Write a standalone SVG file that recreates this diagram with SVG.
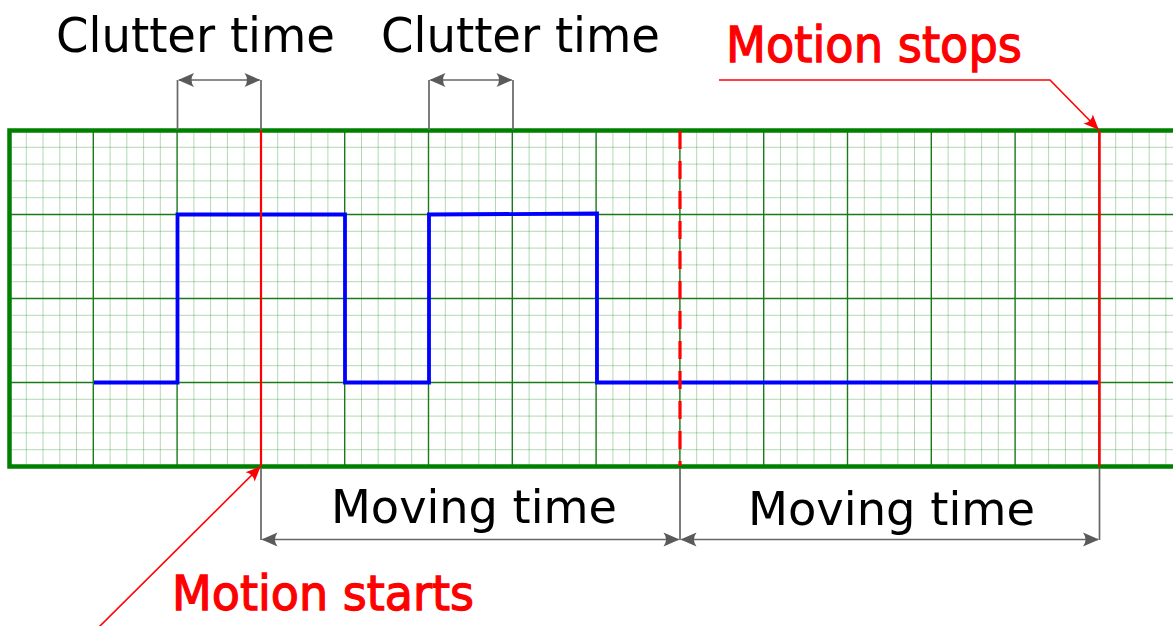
<svg xmlns="http://www.w3.org/2000/svg" width="1173" height="626" viewBox="0 0 1173 626">
<style>
.minor{stroke:#008000;stroke-opacity:0.3;stroke-width:1;fill:none}
.major{stroke:#1a7a1a;stroke-width:1.4;fill:none}
.border{stroke:#008000;stroke-width:4.5;fill:none}
.dim{stroke:#666666;stroke-width:1.7;fill:none}
.ptr{stroke:#ff0000;stroke-width:1.6;fill:none}
.lbl{font-family:"DejaVu Sans Condensed","DejaVu Sans",sans-serif;fill:#000000}
.red{font-family:"DejaVu Sans","DejaVu Sans Condensed",sans-serif;fill:#ff0000;stroke:#ff0000;stroke-width:1.3}
</style>
<defs>
<marker id="ag" markerUnits="userSpaceOnUse" markerWidth="22" markerHeight="18" refX="0" refY="0" viewBox="-18 -9 22 18" orient="auto-start-reverse" overflow="visible">
<path d="M1,0 L-15,-7 Q-10,0 -15,7 Z" fill="#5a5a5a"/>
</marker>
<marker id="ar" markerUnits="userSpaceOnUse" markerWidth="22" markerHeight="18" refX="0" refY="0" viewBox="-18 -9 22 18" orient="auto" overflow="visible">
<path d="M1,0 L-14,-6.5 Q-9.5,0 -14,6.5 Z" fill="#ff0000"/>
</marker>
</defs>
<rect width="1173" height="626" fill="#ffffff"/>
<g id="grid">
<path class="minor" d="M26.3,130.5V466.5M43,130.5V466.5M59.8,130.5V466.5M76.5,130.5V466.5M110.1,130.5V466.5M126.8,130.5V466.5M143.6,130.5V466.5M160.3,130.5V466.5M193.9,130.5V466.5M210.6,130.5V466.5M227.4,130.5V466.5M244.1,130.5V466.5M277.7,130.5V466.5M294.4,130.5V466.5M311.2,130.5V466.5M327.9,130.5V466.5M361.5,130.5V466.5M378.2,130.5V466.5M395,130.5V466.5M411.7,130.5V466.5M445.3,130.5V466.5M462,130.5V466.5M478.8,130.5V466.5M495.5,130.5V466.5M529.1,130.5V466.5M545.8,130.5V466.5M562.6,130.5V466.5M579.3,130.5V466.5M612.9,130.5V466.5M629.6,130.5V466.5M646.4,130.5V466.5M663.1,130.5V466.5M696.7,130.5V466.5M713.4,130.5V466.5M730.2,130.5V466.5M746.9,130.5V466.5M780.5,130.5V466.5M797.2,130.5V466.5M814,130.5V466.5M830.7,130.5V466.5M864.3,130.5V466.5M881,130.5V466.5M897.8,130.5V466.5M914.5,130.5V466.5M948.1,130.5V466.5M964.8,130.5V466.5M981.6,130.5V466.5M998.3,130.5V466.5M1031.9,130.5V466.5M1048.6,130.5V466.5M1065.4,130.5V466.5M1082.1,130.5V466.5M1115.7,130.5V466.5M1132.4,130.5V466.5M1149.2,130.5V466.5M1165.9,130.5V466.5
M9.5,147.3H1173M9.5,164.1H1173M9.5,180.9H1173M9.5,197.7H1173M9.5,231.3H1173M9.5,248.1H1173M9.5,264.9H1173M9.5,281.7H1173M9.5,315.3H1173M9.5,332.1H1173M9.5,348.9H1173M9.5,365.7H1173M9.5,399.3H1173M9.5,416.1H1173M9.5,432.9H1173M9.5,449.7H1173"/>
<path class="major" d="M93.3,130.5V466.5M177.1,130.5V466.5M260.9,130.5V466.5M344.7,130.5V466.5M428.5,130.5V466.5M512.3,130.5V466.5M596.1,130.5V466.5M679.9,130.5V466.5M763.7,130.5V466.5M847.5,130.5V466.5M931.3,130.5V466.5M1015.1,130.5V466.5M1098.9,130.5V466.5M9.5,214.5H1173M9.5,298.5H1173M9.5,382.5H1173"/>
<path class="border" d="M1180,130.5H9.5V466.5H1180"/>
</g>
<g id="signal">
<path d="M94,382.5H177.5V214.5H345V382.5H429V214.5L597,213.5V382.5H1099" fill="none" stroke="#0000ff" stroke-width="3.8"/>
</g>
<g id="motion-lines">
<path d="M261,130.5V466.5" stroke="#ff0000" stroke-width="2.2" fill="none"/>
<path d="M680,131V466" stroke="#ff0000" stroke-width="3.2" stroke-dasharray="18,12" fill="none"/>
<path d="M1099.5,130.5V466.5" stroke="#ff0000" stroke-width="2.5" fill="none"/>
</g>
<g id="connectors">
<path class="dim" d="M177.5,80V130M261,80V130"/>
<path class="dim" d="M179,80H259.5" marker-start="url(#ag)" marker-end="url(#ag)"/>
<path class="dim" d="M429,80V130M513,80V130"/>
<path class="dim" d="M430.5,80H511.5" marker-start="url(#ag)" marker-end="url(#ag)"/>
<path class="dim" d="M261,468V540M680,468V540M1099.5,468V540"/>
<path class="dim" d="M262.5,539.5H678.5" marker-start="url(#ag)" marker-end="url(#ag)"/>
<path class="dim" d="M681.5,539.5H1098" marker-start="url(#ag)" marker-end="url(#ag)"/>
<path class="ptr" d="M719,80H1050L1098,129" marker-end="url(#ar)"/>
<path class="ptr" d="M98,628L260,467" marker-end="url(#ar)"/>
</g>
<g id="labels">
<text class="lbl" x="56" y="52" font-size="48" textLength="279" lengthAdjust="spacingAndGlyphs">Clutter time</text>
<text class="lbl" x="381" y="52" font-size="48" textLength="279" lengthAdjust="spacingAndGlyphs">Clutter time</text>
<text class="lbl" x="331" y="523" font-size="46" textLength="286" lengthAdjust="spacingAndGlyphs">Moving time</text>
<text class="lbl" x="748" y="525" font-size="46" textLength="287" lengthAdjust="spacingAndGlyphs">Moving time</text>
<text class="red" x="726" y="62" font-size="49" textLength="296" lengthAdjust="spacingAndGlyphs">Motion stops</text>
<text class="red" x="172" y="610" font-size="48" textLength="302" lengthAdjust="spacingAndGlyphs">Motion starts</text>
</g>
</svg>
